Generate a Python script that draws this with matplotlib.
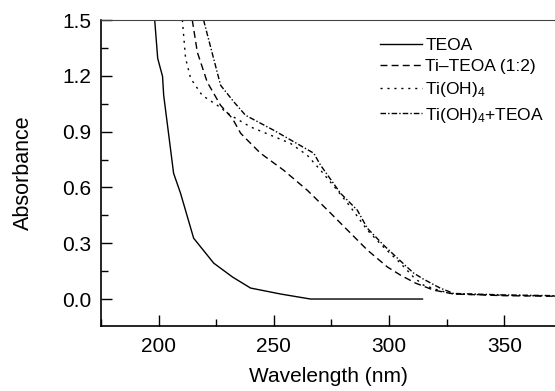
import matplotlib
matplotlib.use('Agg')
import matplotlib.pyplot as plt
from matplotlib.ticker import MultipleLocator

plt.rcParams['font.family'] = ['Liberation Sans', 'DejaVu Sans']
plt.rcParams['mathtext.fontset'] = 'custom'
plt.rcParams['mathtext.rm'] = 'Liberation Sans'
plt.rcParams['mathtext.it'] = 'Liberation Sans'

# TEOA (solid)
teoa_wl = [198.3, 199.6, 201.7, 202.2, 204.3, 206.5, 209.5, 215.2, 223.9, 232.1, 239.9, 252.9, 265.9, 314.5]
teoa_abs = [1.50, 1.294, 1.197, 1.095, 0.891, 0.676, 0.569, 0.327, 0.193, 0.118, 0.059, 0.027, 0.0, 0.0]

# Ti-TEOA (1:2) (dashed)
titeoa_wl = [214.6, 216.8, 221.1, 226.9, 232.0, 235.6, 239.9, 244.2, 254.3, 264.5, 273.3, 282.0,
             290.6, 299.3, 304.9, 311.4, 319.3, 328.0, 350.0, 372.0]
titeoa_abs = [1.50, 1.327, 1.166, 1.041, 0.971, 0.891, 0.837, 0.784, 0.692, 0.585, 0.478, 0.370,
              0.263, 0.172, 0.129, 0.086, 0.048, 0.027, 0.018, 0.015]

# Ti(OH)4 (dotted)
tioh_wl = [210.3, 211.7, 213.9, 218.9, 225.5, 231.2, 239.9, 257.2, 264.5, 270.3, 277.5, 283.3,
           290.6, 297.6, 304.9, 310.6, 314.9, 322.0, 328.0, 350.0, 372.0]
tioh_abs = [1.50, 1.294, 1.186, 1.095, 1.041, 0.988, 0.925, 0.837, 0.773, 0.692, 0.585, 0.494,
            0.370, 0.279, 0.193, 0.118, 0.075, 0.045, 0.027, 0.020, 0.016]

# Ti(OH)4+TEOA (dash-dot)
tiohteoa_wl = [219.5, 226.9, 232.7, 237.7, 250.0, 267.3, 270.3, 278.9, 286.2, 290.6, 297.6, 305.0,
               310.6, 314.9, 322.0, 328.0, 350.0, 372.0]
tiohteoa_abs = [1.50, 1.149, 1.059, 0.988, 0.907, 0.784, 0.719, 0.569, 0.478, 0.380, 0.290, 0.204,
                0.140, 0.107, 0.060, 0.030, 0.022, 0.018]

fig = plt.figure(figsize=(5.55, 3.91), dpi=100)
ax = fig.add_axes([101 / 555, 1 - 326 / 391, 1 - 101 / 555, (326 - 20) / 391])

ax.plot(teoa_wl, teoa_abs, color='black', lw=1.0, ls='-', label='TEOA')
ax.plot(titeoa_wl, titeoa_abs, color='black', lw=1.0, ls=(0, (5, 3)), label='Ti\u2013TEOA (1:2)')
ax.plot(tioh_wl, tioh_abs, color='black', lw=1.0, ls=(0, (1.5, 3.5)), label='Ti(OH)$_4$')
ax.plot(tiohteoa_wl, tiohteoa_abs, color='black', lw=1.0, ls=(0, (4, 1.5, 1, 1.5)),
        label='Ti(OH)$_4$+TEOA')

ax.set_xlim(175, 372)
ax.set_ylim(-0.145, 1.5)
ax.xaxis.set_major_locator(MultipleLocator(50))
ax.xaxis.set_minor_locator(MultipleLocator(25))
ax.yaxis.set_major_locator(MultipleLocator(0.3))
ax.yaxis.set_minor_locator(MultipleLocator(0.15))
ax.yaxis.set_major_formatter(plt.FormatStrFormatter('%.1f'))

ax.tick_params(which='major', direction='in', length=8, width=1.0, labelsize=15, pad=7)
ax.tick_params(which='minor', direction='in', length=5, width=1.0)
ax.tick_params(axis='x', which='major', pad=8)
ax.spines['right'].set_visible(False)
ax.spines['top'].set_color('#444444')
for s in ['left', 'bottom']:
    ax.spines[s].set_linewidth(1.2)

ax.set_xlabel('Wavelength (nm)', fontsize=15, labelpad=8)
ax.set_ylabel('Absorbance', fontsize=15.5, labelpad=20)

ax.legend(loc='upper left', bbox_to_anchor=(380 / 555, 1 - 38 / 391), bbox_transform=fig.transFigure,
          frameon=False, fontsize=12.5, handlelength=2.4, handletextpad=0.2,
          labelspacing=0.35, borderpad=0, borderaxespad=0)

fig.savefig('out.png', dpi=100)
